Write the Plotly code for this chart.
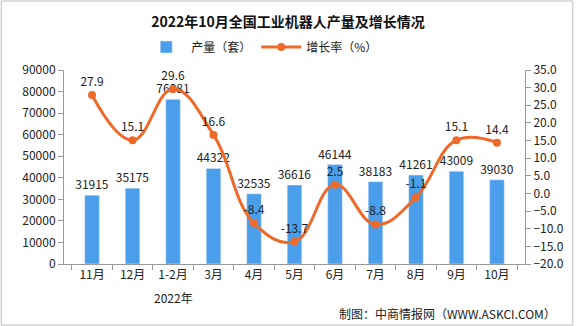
import plotly.graph_objects as go

months = ["11月", "12月", "1-2月", "3月", "4月", "5月", "6月", "7月", "8月", "9月", "10月"]
output = [31915, 35175, 76381, 44322, 32535, 36616, 46144, 38183, 41261, 43009, 39030]
growth = [27.9, 15.1, 29.6, 16.6, -8.4, -13.7, 2.5, -8.8, -1.1, 15.1, 14.4]

FONT = "Noto Sans CJK SC"
W, H = 576, 326
ML, MR, MT, MB = 64, 49, 70, 62

fig = go.Figure()
fig.add_trace(go.Bar(
    x=months, y=output, name="产量（套）",
    marker_color="#4A9EEA", width=0.36,
    text=[str(v) for v in output], textposition="outside", constraintext="none",
    textfont=dict(size=12, color="#222222"), cliponaxis=False,
))
fig.add_trace(go.Scatter(
    x=months, y=growth, name="增长率（%）", yaxis="y2",
    mode="lines+markers+text",
    line=dict(color="#ED6A2A", width=3, shape="spline", smoothing=1.2),
    marker=dict(size=8, color="#ED6A2A"),
    text=[f"{v:.1f}" for v in growth], textposition="top center",
    textfont=dict(size=12, color="#222222"), cliponaxis=False,
))

axis_common = dict(showgrid=False, showline=True, linecolor="#999999", linewidth=1,
                   ticks="outside", tickcolor="#999999", ticklen=5,
                   tickfont=dict(size=12, color="#222222", family=FONT))
fig.update_layout(
    width=W, height=H,
    margin=dict(l=ML, r=MR, t=MT, b=MB),
    paper_bgcolor="white", plot_bgcolor="white",
    font=dict(family=FONT, size=12, color="#222222"),
    title=dict(text="<b>2022年10月全国工业机器人产量及增长情况</b>", x=0.5, xanchor="center",
               y=1 - 22 / H, yanchor="middle", font=dict(size=14, color="#111111")),
    legend=dict(orientation="h", x=0.43, xanchor="center", y=1 + 23 / (H - MT - MB),
                yanchor="middle", font=dict(size=12), itemwidth=40),
    xaxis=dict(**axis_common, tickson="boundaries", type="category"),
    yaxis=dict(**axis_common, range=[0, 90000], dtick=10000, tickformat="d"),
    yaxis2=dict(**axis_common, range=[-20, 35], dtick=5, tickformat=".1f",
                overlaying="y", side="right"),
    bargap=0.64,
    showlegend=True,
)
fig.add_annotation(text="2022年", x=2, xref="x", y=-33 / (H - MT - MB), yref="paper",
                   showarrow=False, font=dict(size=12), yanchor="middle")
fig.add_annotation(text="制图：中商情报网（WWW.ASKCI.COM）", x=1 + 33 / (W - ML - MR), xref="paper",
                   y=-49 / (H - MT - MB), yref="paper", xanchor="right", yanchor="middle",
                   showarrow=False, font=dict(size=12))
pw, ph = W - ML - MR, H - MT - MB
fig.add_shape(type="rect", xref="paper", yref="paper",
              x0=-(ML - 1) / pw, x1=1 + (MR - 1) / pw, y0=-(MB - 1) / ph, y1=1 + (MT - 1) / ph,
              line=dict(color="#BBBBBB", width=1), fillcolor="rgba(0,0,0,0)", layer="below")
fig.write_html("out.html")
